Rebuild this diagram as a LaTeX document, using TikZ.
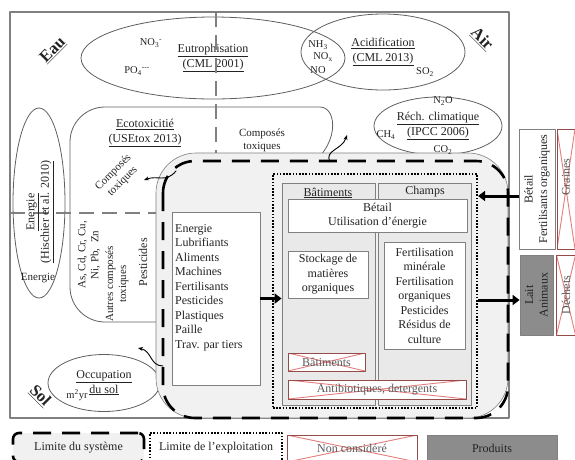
\documentclass[tikz,border=0pt]{standalone}
\usepackage{fontspec}
\setmainfont{Liberation Serif}
\usetikzlibrary{positioning}
\usetikzlibrary{shapes.geometric}
\usetikzlibrary{arrows.meta}
\definecolor{cadre}{RGB}{128,128,128}
\definecolor{trait}{RGB}{95,95,95}
\definecolor{fondsys}{RGB}{241,241,241}
\definecolor{fondcol}{RGB}{233,233,233}
\definecolor{produit}{RGB}{140,140,140}
\definecolor{barre}{RGB}{228,125,125}
\definecolor{bordx}{RGB}{150,75,75}
\definecolor{texte}{RGB}{35,35,35}

\begin{document}
\begin{tikzpicture}[x=1pt,y=-1pt,line join=round,
  txt/.style={text=texte,inner sep=0pt,align=center,font=\fontsize{12}{14.5}\selectfont},
  petit/.style={txt,font=\fontsize{10.5}{12}\selectfont},
  moyen/.style={txt,font=\fontsize{11}{13}\selectfont},
  zone/.style={txt,font=\bfseries\fontsize{16.5}{18}\selectfont},
  impact/.style={ellipse,draw=trait,line width=0.8pt,inner sep=0pt,txt},
  boite/.style={rectangle,draw=cadre,line width=0.8pt,fill=white,inner sep=1pt,txt},
  colonne/.style={rectangle,draw=cadre,line width=0.8pt,fill=fondcol,inner sep=0pt},
  barree/.style={rectangle,draw=bordx,line width=0.8pt,fill=white,inner sep=1pt,txt,text=texte!75,
    path picture={\draw[barre,line width=0.9pt] (path picture bounding box.north west) -- (path picture bounding box.south east) (path picture bounding box.south west) -- (path picture bounding box.north east);}},
  produit/.style={rectangle,draw=cadre,line width=0.8pt,fill=produit,inner sep=1pt,txt},
  limsys/.style={draw=black,line width=2.6pt,dash pattern=on 18pt off 11pt},
  limexp/.style={draw=black,line width=2.2pt,dash pattern=on 1.6pt off 1.6pt},
  separ/.style={draw=cadre,line width=1.5pt,dash pattern=on 15pt off 8pt},
  flux/.style={line width=3pt,-{Triangle[length=7pt,width=10pt]}},
  emis/.style={line width=0.9pt,line cap=round,-{Stealth[length=5pt,width=4pt]}}]
\clip (0,0) rectangle (575,459);
% cadre general
\draw[cadre,line width=1.5pt] (10,12) rectangle (509,418);

% categories d'impact
\node[impact,minimum width=264,minimum height=82] (eutro) at (213,58) {\underline{Eutrophisation}\\\underline{(CML 2001)}};
\node[impact,minimum width=164,minimum height=76] (acid) at (383,52) {\underline{Acidification}\\\underline{(CML 2013)}};
\node[impact,minimum width=128,minimum height=58] (rech) at (438,126) {\underline{Réch. climatique}\\\underline{(IPCC 2006)}};
\node[impact,minimum width=52,minimum height=190] (energ) at (39,203) {};
\node[impact,minimum width=112,minimum height=57] (occup) at (104,383) {\underline{Occupation}\\\underline{du sol}};
\draw[trait,line width=0.8pt] (200,322) [rounded corners=35] -- (70,322) -- (70,107) -- (285,107) [sharp corners] .. controls (338,107) and (340,148) .. (305,168);

% systeme
\draw[cadre,line width=0.6pt,fill=fondsys,rounded corners=40] (156,153) rectangle (508,418);
\draw[separ] (216,12) -- (216,153);
\draw[separ] (10,213) -- (156,213);
\draw[limsys,rounded corners=32] (163,161) rectangle (508,418);

% exploitation
\node[rectangle,limexp,minimum width=204,minimum height=234,inner sep=0pt] (ferme) at (375,291) {};
\node[colonne,minimum width=93,minimum height=222] (batcol) at (328.5,294) {};
\node[colonne,minimum width=93,minimum height=222] (chcol) at (424.5,294) {};
\node[txt] (battit) at (328,193) {\underline{Bâtiments}};
\node[txt] (chtit) at (425,193) {\underline{Champs}};
\node[boite,minimum width=179,minimum height=33] (betail) at (377.5,215.5) {Bétail\\Utilisation d’énergie};
\node[boite,minimum width=80,minimum height=47] (stock) at (328,274.5) {Stockage de\\matières\\organiques};
\node[boite,minimum width=81,minimum height=107] (fertil) at (424.5,295.5) {Fertilisation\\minérale\\Fertilisation\\organiques\\Pesticides\\Résidus de\\culture};
\node[barree,minimum width=77,minimum height=18] (batx) at (326.5,362) {Bâtiments};
\node[barree,minimum width=178,minimum height=19] (antix) at (377,389.5) {Antibiotiques, detergents};

% intrants
\node[boite,minimum width=88,minimum height=173] (intrants) at (216,298.5) {};
\node[txt,anchor=north west,align=left] (liste) at (175,224) {Energie\\Lubrifiants\\Aliments\\Machines\\Fertilisants\\Pesticides\\Plastiques\\Paille\\Trav. par tiers};

% entrees et sorties
\node[boite,rotate=90,minimum width=120,minimum height=36] (apports) at (537,189) {Bétail\\Fertilisants organiques};
\node[barree,minimum width=18,minimum height=120] (graines) at (566,189) {};
\node[txt,rotate=90,text=texte!75] (grainestxt) at (566,177) {Graines};
\node[produit,rotate=90,minimum width=80,minimum height=33] (lait) at (536.5,295) {Lait\\Animaux};
\node[barree,rotate=90,minimum width=80,minimum height=19] (dechets) at (566,295) {Déchets};

\draw[flux] (intrants.east) -- (intrants.east -| batcol.west);
\draw[flux] ([yshift=-7pt]apports.north) -- ([yshift=-7pt]apports.north -| ferme.east);
\draw[flux] ([yshift=-5pt]lait.north -| ferme.east) -- ([yshift=-5pt]lait.north);

% emissions
\coordinate (airdep) at (330,162);
\coordinate (airfin) at (347,135);
\draw[emis] (airdep) .. controls (324,150) and (342,150) .. (airfin);
\coordinate (toxdep) at (176,171);
\coordinate (toxfin) at (144,180);
\draw[emis] (toxdep) .. controls (166,183) and (158,175) .. (toxfin);
\coordinate (soldep) at (163,366);
\coordinate (solfin) at (138,348);
\draw[emis] (soldep) .. controls (150,366) and (152,351) .. (solfin);

% substances
\node[petit] (no3) at (151,43) {NO\textsubscript{3}\textsuperscript{-}};
\node[petit] (po4) at (137,71) {PO\textsubscript{4}\textsuperscript{{-}{-}{-}}};
\node[petit] (nh3) at (318,45) {NH\textsubscript{3}};
\node[petit] (nox) at (323,57) {NO\textsubscript{x}};
\node[petit] (no) at (318,70) {NO};
\node[petit] (so2) at (425,72) {SO\textsubscript{2}};
\node[petit] (n2o) at (443,101) {N\textsubscript{2}O};
\node[petit] (ch4) at (386,135) {CH\textsubscript{4}};
\node[petit] (co2) at (443,150) {CO\textsubscript{2}};
\node[txt] (ecotit) at (145,133) {\underline{Ecotoxicitié}\\\underline{(USEtox 2013)}};
\node[moyen] (compair) at (262,140) {Composés\\toxiques};
\node[moyen,rotate=45] (compeau) at (118,177) {Composés\\toxiques};
\node[txt,rotate=90] (energtit) at (40,212) {\underline{Energie}\\\underline{(Hischier et al. 2010)}};
\node[moyen] (energtxt) at (38,278) {Energie};
\node[moyen,rotate=90] (metaux) at (89,255) {As, Cd, Cr, Cu,\\Ni, Pb,\ \ Zn};
\node[moyen,rotate=90] (autres) at (117,284) {Autres composés\\toxiques};
\node[txt,rotate=90] (pestic) at (143,262) {Pesticides};
\node[petit] (m2yr) at (77,395) {m\textsuperscript{2}yr};
\node[zone,rotate=45] (eau) at (53,50) {\underline{Eau}};
\node[zone,rotate=-45] (air) at (482,39) {\underline{Air}};
\node[zone,rotate=-45] (sol) at (40,396) {\underline{Sol}};

% legende
\node[txt,limsys,fill=fondsys,rounded corners=6,minimum width=131,minimum height=29] (leg1) at (78.5,447.5) {Limite du système};
\node[txt,limexp,fill=white,minimum width=132,minimum height=29] (leg2) at (216,447.5) {Limite de l’exploitation};
\node[barree,minimum width=130,minimum height=27] (leg3) at (352,448.5) {Non considéré};
\node[produit,minimum width=130,minimum height=27] (leg4) at (492,448.5) {Produits};
\end{tikzpicture}
\end{document}
